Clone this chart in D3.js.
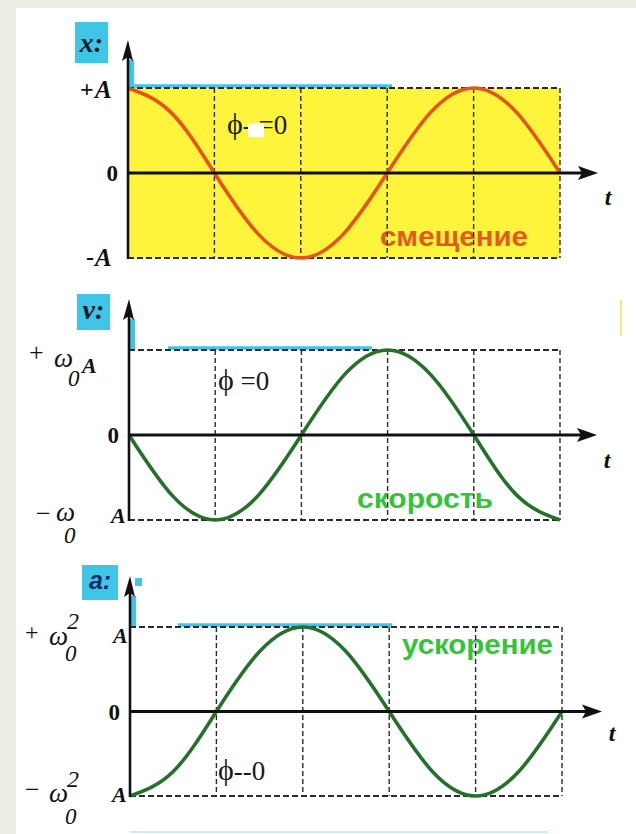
<!DOCTYPE html>
<html>
<head>
<meta charset="utf-8">
<script src="https://cdn.jsdelivr.net/npm/d3@7"></script>
<style>
  html, body { margin: 0; padding: 0; background: #eeede6; }
  svg { display: block; }
</style>
</head>
<body>
<script>
// Harmonic oscillation: displacement, velocity and acceleration over 1¼ periods.
// Time is measured in quarter periods; samples are taken every eighth of a period.
const timeSamples = [0, 0.5, 1, 1.5, 2, 2.5, 3, 3.5, 4, 4.5, 5];
const displacement = [1, 0.71, 0, -0.71, -1, -0.71, 0, 0.71, 1, 0.71, 0];
const velocity = [0, -0.71, -1, -0.71, 0, 0.71, 1, 0.71, 0, -0.71, -1];
const acceleration = [-1, -0.71, 0, 0.71, 1, 0.71, 0, -0.71, -1, -0.71, 0];

const gridTimes = [1, 2, 3, 4, 5];

const panelTitles = ["x:", "v:", "a:"];
const captions = ["смещение", "скорость", "ускорение"];
const phaseSymbol = "ϕ";
const phaseRest = ["‑ =0", " =0", "‑‑0"];

const W = 636, H = 834;
const serif = "'Liberation Serif', 'DejaVu Serif', serif";
const sans = "'Liberation Sans', Arial, sans-serif";

const svg = d3.select("body").append("svg")
  .attr("width", W).attr("height", H);

// page: beige margin, white sheet
svg.append("rect").attr("width", W).attr("height", H).attr("fill", "#eeede6");
svg.append("rect").attr("x", 16).attr("y", 8).attr("width", W - 16).attr("height", H - 8).attr("fill", "#ffffff");

const panels = [
  { values: displacement, x0: 128, x1: 560, top: 88, bot: 258, axisTop: 40, arrowEnd: 598,
    curve: "#e6531d", fill: "#fdf43b", caption: "#e4591f", cyanFrom: 128, cyanTo: 392,
    capX: 380, capY: 246, capW: 148, phX: 227, phY: 134, tY: 205, boxX: 75, boxY: 22, boxW: 33, boxH: 41 },
  { values: velocity, x0: 129, x1: 560, top: 350, bot: 520, axisTop: 299, arrowEnd: 597,
    curve: "#24722a", fill: null, caption: "#35c33a", cyanFrom: 168, cyanTo: 372,
    capX: 357, capY: 508, capW: 136, phX: 218, phY: 390, tY: 468, boxX: 77, boxY: 294, boxW: 33, boxH: 36 },
  { values: acceleration, x0: 130, x1: 562, top: 627, bot: 796, axisTop: 576, arrowEnd: 602,
    curve: "#24722a", fill: null, caption: "#35c33a", cyanFrom: 178, cyanTo: 392,
    capX: 402, capY: 654, capW: 151, phX: 218, phY: 780, tY: 741, boxX: 82, boxY: 565, boxW: 36, boxH: 35 }
];

const cyan = "#3fc6e6";

panels.forEach((p, i) => {
  const x = d3.scaleLinear().domain([0, 5]).range([p.x0, p.x1]);
  const y = d3.scaleLinear().domain([-1, 1]).range([p.bot, p.top]);
  const g = svg.append("g");

  // shaded area of the displacement plot
  if (p.fill) {
    g.append("rect")
      .attr("x", x(0)).attr("y", y(1))
      .attr("width", x(5) - x(0)).attr("height", y(-1) - y(1))
      .attr("fill", p.fill);
  }

  // caption sits under the grid lines
  g.append("text")
    .attr("x", p.capX).attr("y", p.capY)
    .attr("textLength", p.capW).attr("lengthAdjust", "spacingAndGlyphs")
    .attr("font-family", sans).attr("font-weight", "bold").attr("font-size", 27)
    .attr("fill", p.caption)
    .text(captions[i]);

  // cyan highlight along the upper amplitude level and the axis above it
  g.append("line")
    .attr("x1", p.cyanFrom).attr("x2", p.cyanTo)
    .attr("y1", y(1) - 2).attr("y2", y(1) - 2)
    .attr("stroke", cyan).attr("stroke-width", 3.5);
  g.append("rect")
    .attr("x", x(0) - 1).attr("y", p.axisTop + 20)
    .attr("width", 7).attr("height", y(1) - p.axisTop - 20)
    .attr("fill", cyan);

  // dashed grid: vertical lines at each quarter period
  g.selectAll(".vgrid").data(gridTimes).join("line")
    .attr("x1", d => x(d)).attr("x2", d => x(d))
    .attr("y1", y(1)).attr("y2", y(-1))
    .attr("stroke", "#2a2a2a").attr("stroke-width", 1.4)
    .attr("stroke-dasharray", "5,3");
  // dashed amplitude levels
  g.selectAll(".hgrid").data([1, -1]).join("line")
    .attr("x1", x(0)).attr("x2", x(5))
    .attr("y1", d => y(d)).attr("y2", d => y(d))
    .attr("stroke", "#2a2a2a").attr("stroke-width", 1.9)
    .attr("stroke-dasharray", "6,3");

  // the oscillation curve
  const line = d3.line()
    .x((d, k) => x(timeSamples[k]))
    .y(d => y(d))
    .curve(d3.curveNatural);
  g.append("path")
    .attr("d", line(p.values))
    .attr("fill", "none")
    .attr("stroke", p.curve)
    .attr("stroke-width", 3.6);

  // time axis with arrow
  g.append("line")
    .attr("x1", x(0)).attr("x2", p.arrowEnd - 14)
    .attr("y1", y(0)).attr("y2", y(0))
    .attr("stroke", "#111").attr("stroke-width", 3);
  g.append("path")
    .attr("d", `M${p.arrowEnd},${y(0)} L${p.arrowEnd - 20},${y(0) - 7} L${p.arrowEnd - 16},${y(0)} L${p.arrowEnd - 20},${y(0) + 7} Z`)
    .attr("fill", "#111");

  // vertical axis with arrow
  g.append("line")
    .attr("x1", x(0)).attr("x2", x(0))
    .attr("y1", y(-1) + 1).attr("y2", p.axisTop + 12)
    .attr("stroke", "#111").attr("stroke-width", 2.6);
  g.append("path")
    .attr("d", `M${x(0)},${p.axisTop} L${x(0) - 6},${p.axisTop + 21} L${x(0)},${p.axisTop + 17} L${x(0) + 5},${p.axisTop + 21} Z`)
    .attr("fill", "#111");

  // "t" label
  g.append("text")
    .attr("x", p.arrowEnd + 10).attr("y", p.tY)
    .attr("text-anchor", "middle")
    .attr("font-family", serif).attr("font-style", "italic").attr("font-weight", "bold")
    .attr("font-size", 24).attr("fill", "#111")
    .text("t");

  // panel title in a cyan box
  g.append("rect")
    .attr("x", p.boxX).attr("y", p.boxY)
    .attr("width", p.boxW).attr("height", p.boxH)
    .attr("fill", cyan);
  g.append("text")
    .attr("x", p.boxX + p.boxW / 2).attr("y", p.boxY + p.boxH - 11)
    .attr("text-anchor", "middle")
    .attr("font-family", i === 2 ? sans : serif)
    .attr("font-style", "italic").attr("font-weight", "bold")
    .attr("font-size", i === 2 ? 25 : 28).attr("fill", i === 2 ? "#1b2a6b" : "#1a1a2a")
    .text(panelTitles[i]);

  // phase label
  const ph = g.append("text")
    .attr("x", p.phX).attr("y", p.phY)
    .attr("font-family", serif).attr("fill", "#1a1a1a");
  ph.append("tspan").attr("font-size", 30).text(phaseSymbol);
  ph.append("tspan").attr("font-size", 27).text(phaseRest[i]);

  // zero label on the value axis
  g.append("text")
    .attr("x", x(0) - 10).attr("y", y(0) + 8)
    .attr("text-anchor", "end")
    .attr("font-family", serif).attr("font-weight", "bold").attr("font-size", 23)
    .attr("fill", "#111")
    .text("0");

  p.x = x; p.y = y;
});

// small white patch on the displacement phase label
svg.append("rect").attr("x", 248).attr("y", 123).attr("width", 16).attr("height", 14).attr("fill", "#ffffff");

// amplitude labels
function label(parts) {
  parts.forEach(s => {
    svg.append("text")
      .attr("x", s.x).attr("y", s.y)
      .attr("font-family", serif)
      .attr("font-style", s.italic ? "italic" : "normal")
      .attr("font-weight", s.bold ? "bold" : "normal")
      .attr("font-size", s.size)
      .attr("fill", "#111")
      .text(s.t);
  });
}

const p1 = panels[0], p2 = panels[1], p3 = panels[2];
label([
  { t: "+", x: 80, y: p1.y(1) + 9, size: 24, bold: true },
  { t: "A", x: 95, y: p1.y(1) + 10, size: 25, bold: true, italic: true },
  { t: "-", x: 86, y: p1.y(-1) + 7, size: 24, bold: true },
  { t: "A", x: 95, y: p1.y(-1) + 8, size: 25, bold: true, italic: true }
]);
label([
  { t: "+", x: 29, y: p2.y(1) + 11, size: 26 },
  { t: "ω", x: 54, y: p2.y(1) + 17, size: 27, italic: true },
  { t: "0", x: 68, y: p2.y(1) + 36, size: 23, italic: true },
  { t: "A", x: 82, y: p2.y(1) + 23, size: 22, bold: true, italic: true },
  { t: "−", x: 36, y: p2.y(-1) + 2, size: 26 },
  { t: "ω", x: 56, y: p2.y(-1) + 1, size: 27, italic: true },
  { t: "0", x: 64, y: p2.y(-1) + 23, size: 23, italic: true },
  { t: "A", x: 111, y: p2.y(-1) + 3, size: 22, bold: true, italic: true }
]);
label([
  { t: "+", x: 25, y: p3.y(1) + 13, size: 24 },
  { t: "ω", x: 49, y: p3.y(1) + 18, size: 27, italic: true },
  { t: "2", x: 67, y: p3.y(1) + 2, size: 24, italic: true },
  { t: "0", x: 65, y: p3.y(1) + 34, size: 23, italic: true },
  { t: "A", x: 113, y: p3.y(1) + 16, size: 22, bold: true, italic: true },
  { t: "−", x: 25, y: p3.y(-1) + 2, size: 26 },
  { t: "ω", x: 49, y: p3.y(-1) + 6, size: 27, italic: true },
  { t: "2", x: 67, y: p3.y(-1) - 9, size: 24, italic: true },
  { t: "0", x: 65, y: p3.y(-1) + 28, size: 23, italic: true },
  { t: "A", x: 112, y: p3.y(-1) + 6, size: 22, bold: true, italic: true }
]);

// small cyan tick beside the acceleration axis arrow
svg.append("rect").attr("x", 135).attr("y", 578).attr("width", 7).attr("height", 8).attr("fill", cyan);
// faint marks near the page edges
svg.append("line").attr("x1", 621).attr("x2", 621).attr("y1", 300).attr("y2", 336)
  .attr("stroke", "#f2e88a").attr("stroke-width", 2);
svg.append("line").attr("x1", 130).attr("x2", 548).attr("y1", 832).attr("y2", 832)
  .attr("stroke", "#a9d9dc").attr("stroke-width", 2).attr("opacity", 0.5);
</script>
</body>
</html>
